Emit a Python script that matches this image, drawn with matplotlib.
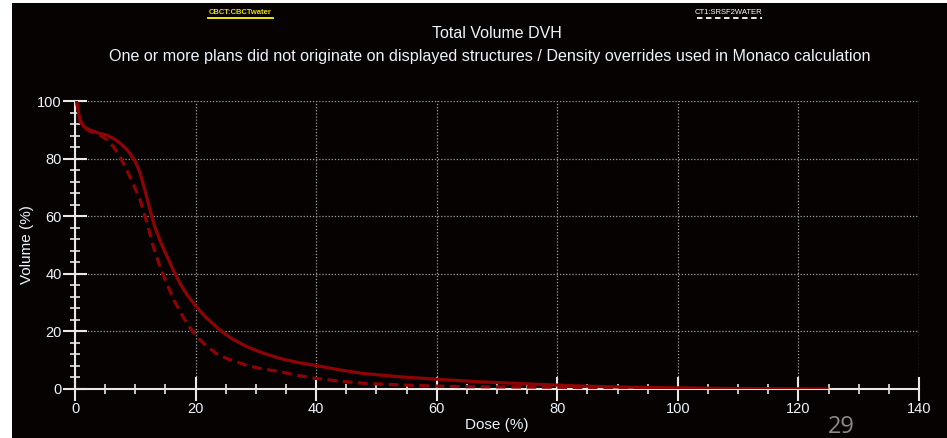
import matplotlib.pyplot as plt
from matplotlib.patches import Rectangle
from matplotlib.lines import Line2D
from matplotlib.ticker import MultipleLocator

plt.rcParams["font.family"] = ["Liberation Sans", "DejaVu Sans"]

# DVH curves: dose (%) vs volume (%)
cbct_dose = [0, 0.3, 0.8, 1.5, 2.5, 4, 5.3, 6.5, 7.5, 8.5, 9.1, 10, 10.8, 11.6, 12.4,
             13.2, 14.1, 15.2, 16.3, 17.4, 18.5, 19.8, 21.5, 24, 26, 28.5, 31, 34,
             37, 39.8, 44, 47.8, 54, 60, 67, 76, 83, 90, 100, 110, 125]
cbct_vol = [100, 99.5, 93.5, 91, 89.9, 88.8, 88.1, 86.8, 85.3, 83.4, 81.8, 79.0, 75,
            69, 62.5, 56.5, 51.5, 46.3, 41.3, 36.7, 33, 29.4, 25.3, 20.5, 17.5, 14.7,
            12.6, 10.6, 9.2, 8.2, 6.6, 5.4, 4.2, 3.4, 2.5, 1.7, 1.1, 0.7, 0.4, 0.15, 0]

ct_dose = [0, 0.3, 0.8, 1.4, 2.5, 4.1, 5.3, 6.4, 7.5, 8.6, 9.7, 10.8, 11.9, 13,
           14.1, 15.2, 16.5, 17.9, 19.0, 20.2, 21.5, 23.5, 25.5, 28.5, 31, 34, 37,
           39.8, 44, 47.8, 54, 60, 65, 72, 80, 90, 100, 110]
ct_vol = [100, 99.5, 93, 91, 89.5, 88.2, 86.5, 84.1, 80.5, 76, 71, 65.6, 58, 49.4,
          42.5, 36.7, 30.5, 25.1, 21.5, 18.2, 15.5, 12.2, 10.3, 8.2, 7.0, 6.0, 4.7,
          3.7, 2.7, 2.0, 1.4, 1.0, 0.8, 0.7, 0.6, 0.4, 0.2, 0]

x_ticks = [0, 20, 40, 60, 80, 100, 120, 140]
y_ticks = [0, 20, 40, 60, 80, 100]

title = "Total Volume DVH"
subtitle = ("One or more plans did not originate on displayed structures / "
            "Density overrides used in Monaco calculation")
legend_labels = ["CBCT:CBCTwater", "CT1:SRSF2WATER"]

bg = "#060202"
red = "#8e0404"
txt = "#eef3fc"

fig = plt.figure(figsize=(9.47, 4.38), dpi=100, facecolor=bg)
# white slide margins on the left and top
fig.patches.append(Rectangle((0, 0), 12 / 947, 1, transform=fig.transFigure,
                             facecolor="white", edgecolor="none", zorder=5))
fig.patches.append(Rectangle((0, 1 - 3 / 438), 1, 3 / 438, transform=fig.transFigure,
                             facecolor="white", edgecolor="none", zorder=5))

ax = fig.add_axes([75 / 947, 1 - 389 / 438, 844 / 947, 288 / 438])
ax.set_facecolor(bg)

ax.plot(cbct_dose, cbct_vol, color=red, lw=2.3, solid_capstyle="butt", zorder=3)
ax.plot(ct_dose, ct_vol, color=red, lw=2.3, ls=(0, (3, 1.8)), zorder=3)

ax.set_xlim(0, 140)
ax.set_ylim(0, 100)
ax.set_xticks(x_ticks)
ax.set_yticks(y_ticks)
ax.xaxis.set_minor_locator(MultipleLocator(5))
ax.yaxis.set_minor_locator(MultipleLocator(4))

ax.grid(True, which="major", color="#a0a0a0", lw=0.9, ls=(0, (1, 1.5)))
for s in ["top", "right"]:
    ax.spines[s].set_visible(False)
for s in ["left", "bottom"]:
    ax.spines[s].set_color("#e8e8e8")
    ax.spines[s].set_linewidth(1.5)

ax.tick_params(which="major", direction="inout", length=17, width=1.5,
               color="#e8e8e8", labelcolor=txt, labelsize=10.5, pad=1)
ax.tick_params(which="minor", direction="inout", length=7, width=1.2,
               color="#e8e8e8")
ax.set_axisbelow(True)

ax.set_xlabel("Dose (%)", color=txt, fontsize=11, labelpad=1)
ax.set_ylabel("Volume (%)", color=txt, fontsize=11, labelpad=2)

fig.text(497 / 947, 1 - 33 / 438, title, color=txt, fontsize=11.5,
         ha="center", va="center")
fig.text(490 / 947, 1 - 57 / 438, subtitle, color=txt, fontsize=11.6,
         ha="center", va="center")

# legend entries along the top
fig.text(240 / 947, 1 - 12 / 438, legend_labels[0], color="#e8e000", fontsize=5.5,
         ha="center", va="center", fontweight="bold")
fig.lines.append(Line2D([208 / 947, 273 / 947], [1 - 18 / 438] * 2,
                        transform=fig.transFigure, color="#ffff00", lw=1.3))
fig.text(728 / 947, 1 - 12 / 438, legend_labels[1], color="white", fontsize=5.5,
         ha="center", va="center")
fig.lines.append(Line2D([697 / 947, 762 / 947], [1 - 18 / 438] * 2,
                        transform=fig.transFigure, color="white", lw=1.3,
                        ls=(0, (3, 2))))

# slide number
fig.text(841 / 947, 1 - 427 / 438, "29", color="#8a8a8a", fontsize=17,
         ha="center", va="center", family=["Open Sans", "DejaVu Sans"])

fig.savefig("out.png", dpi=100, facecolor=bg)
